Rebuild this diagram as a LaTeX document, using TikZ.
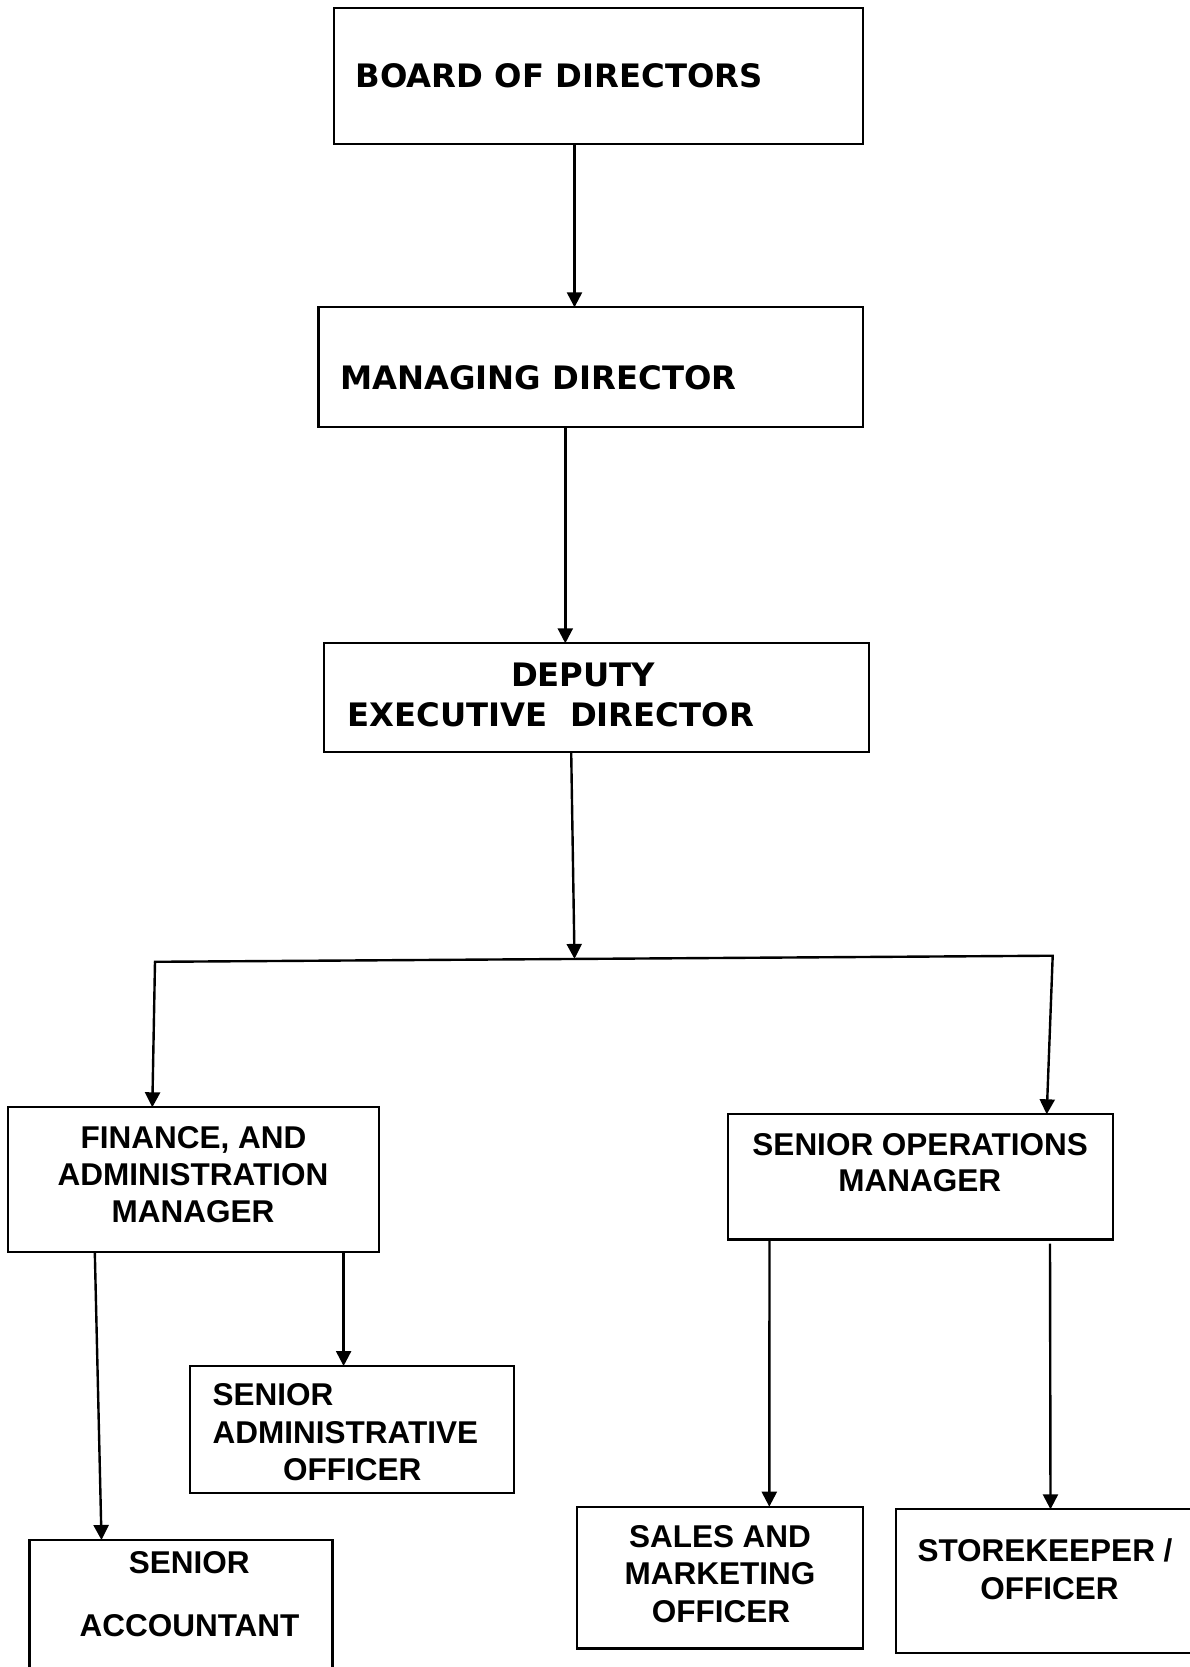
\documentclass[tikz,border=0pt]{standalone}
\usepackage{fontspec}
\setmainfont{Liberation Sans}
\newfontfamily\verdfont{DejaVu Sans}
\usetikzlibrary{arrows.meta}
\tikzset{
  box/.style={draw, line width=2.1pt, inner sep=0pt, outer sep=0pt},
  toptext/.style={font=\verdfont\bfseries\fontsize{32.3}{38}\selectfont, inner sep=0pt, anchor=base west},
  lowtext/.style={font=\bfseries\fontsize{31.5}{37}\selectfont, inner sep=0pt, anchor=base},
  lowtextw/.style={lowtext, anchor=base west},
  arr/.style={line width=2.4pt, -{Triangle[length=15pt,width=15pt]}},
  conn/.style={line width=2.4pt, line cap=rect}
}
\begin{document}
\begin{tikzpicture}[x=1pt,y=-1pt]
\fill[white] (0,0) rectangle (1190,1667);
\useasboundingbox (0,0) rectangle (1190,1667);

% boxes
\node[box, minimum width=529pt, minimum height=135.7pt] (board) at (598.5,76.2) {};
\node[box, minimum width=544.5pt, minimum height=120pt] (md) at (590.75,367.3) {};
\node[box, minimum width=545pt, minimum height=109pt] (ded) at (596.5,697.8) {};
\node[box, minimum width=370.7pt, minimum height=144.4pt] (fam) at (193.25,1179.5) {};
\node[box, minimum width=385pt, minimum height=125.2pt] (som) at (920.2,1176.9) {};
\node[box, minimum width=323.6pt, minimum height=127.3pt] (sao) at (352,1429.65) {};
\node[box, minimum width=303pt, minimum height=140pt] (sa) at (181,1610) {};
\node[box, minimum width=285.4pt, minimum height=141.8pt] (sales) at (720,1577.6) {};
\node[box, minimum width=302pt, minimum height=144pt] (store) at (1047,1581.3) {};

% texts
\node[toptext] (boardT) at (355.5,88) {BOARD OF DIRECTORS};
\node[toptext] (mdT) at (340,389) {MANAGING DIRECTOR};
\node[toptext] (dedT1) at (510.9,686) {DEPUTY};
\node[toptext] (dedT2) at (347.4,726) {EXECUTIVE\ \ DIRECTOR};

\node[lowtext] (famT1) at (193.5,1148.3) {FINANCE, AND};
\node[lowtext] (famT2) at (193,1185) {ADMINISTRATION};
\node[lowtext] (famT3) at (193,1222.7) {MANAGER};

\node[lowtext] (somT1) at (920.2,1155) {SENIOR OPERATIONS};
\node[lowtext] (somT2) at (919.7,1191.7) {MANAGER};

\node[lowtextw] (saoT1) at (212.5,1405.5) {SENIOR};
\node[lowtextw] (saoT2) at (212.5,1443) {ADMINISTRATIVE};
\node[lowtextw] (saoT3) at (283,1480) {OFFICER};

\node[lowtext] (saT1) at (189.3,1573.5) {SENIOR};
\node[lowtext] (saT2) at (189.5,1636.8) {ACCOUNTANT};

\node[lowtext] (salesT1) at (720,1547.5) {SALES AND};
\node[lowtext] (salesT2) at (720,1584.8) {MARKETING};
\node[lowtext] (salesT3) at (721,1622) {OFFICER};

\node[lowtext] (storeT1) at (1045,1561) {STOREKEEPER /};
\node[lowtext] (storeT2) at (1049.5,1599.5) {OFFICER};

% connectors
\draw[arr] (board.south -| 574.5,0) -- (md.north -| 574.5,0);
\draw[arr] (md.south -| 565.3,0) -- (ded.north -| 565.3,0);
\coordinate (j) at (574.5,958.9);
\draw[arr] (ded.south -| 571.2,0) -- (j);
\coordinate (hl) at (155,961.8);
\coordinate (hr) at (1052.7,955.7);
\draw[conn] (hl) -- (hr);
\draw[arr] (hl) -- (fam.north -| 152.3,0);
\draw[arr] (hr) -- (som.north -| 1046.7,0);
\draw[arr] (fam.south -| 94.8,0) -- (sa.north -| 101.5,0);
\draw[arr] (fam.south -| 343.6,0) -- (sao.north -| 343.6,0);
\draw[arr] (som.south -| 769.5,0) -- (sales.north -| 769.3,0);
\coordinate (somr) at ([yshift=-4pt]som.south);
\draw[arr] (somr -| 1050,0) -- (store.north -| 1050.5,0);
\end{tikzpicture}
\end{document}
